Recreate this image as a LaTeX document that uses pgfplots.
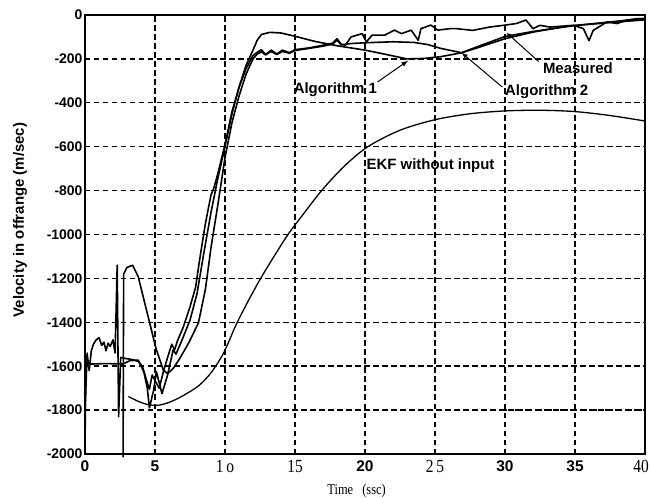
\documentclass[border=0pt]{standalone}
\usepackage{fontspec}
\setmainfont{Liberation Sans}
\newfontfamily\serifl{Liberation Serif}
\usepackage{pgfplots}
\pgfplotsset{compat=1.18}
\usetikzlibrary{arrows.meta,calc}
\newcommand{\stl}[1]{\scalebox{1}[1.2]{\serifl #1}}
\begin{document}
\begin{tikzpicture}
\begin{axis}[
  scale only axis, width=560bp, height=439bp,
  xmin=0, xmax=40, ymin=-2000, ymax=0,
  clip=false,
  xtick={0,5,...,40},
  ytick={-2000,-1800,...,0},
  xticklabels={{\bfseries 0},{\bfseries 5},{\stl{1\,o}},{\stl{15}},{\bfseries 20},{\stl{2\,5}},{\bfseries 30},{\bfseries 35},{\stl{40}\hspace*{8bp}}},
  yticklabels={{-2000},{-1800},{-1600},{-1400},{-1200},{-1000},{-800},{-600},{-400},{-200},{0}},
  major tick length=0pt,
  xticklabel style={font=\fontsize{15.5}{15.5}\selectfont, yshift=-3bp},
  yticklabel style={font=\fontsize{14}{14}\selectfont\bfseries, xshift=1bp},
  grid=major,
  major grid style={black, line width=1.4bp, dash pattern=on 5.5bp off 3.5bp},
  axis line style={black, line width=1.8bp},
  xlabel={\scalebox{1}[1.2]{\serifl Time\hspace{9bp}(ssc)}},
  xlabel style={font=\fontsize{12.5}{12.5}\selectfont, at={(rel axis cs:0.485,0)}, anchor=base, yshift=-40bp},
  ylabel={Velocity in offrange (m/sec)},
  ylabel style={font=\fontsize{15}{15}\selectfont\bfseries, at={(rel axis cs:0,0.533)}, anchor=center, yshift=65bp},
]
% Measured
\addplot[black, line width=1.6bp, line join=round] coordinates {
(0,-1820)(0.15,-1540)(0.3,-1620)(0.45,-1530)(0.6,-1500)(0.8,-1480)(1.0,-1470)(1.2,-1505)(1.35,-1490)(1.5,-1530)(1.65,-1495)(1.8,-1510)(2.0,-1480)(2.15,-1540)(2.3,-1140)(2.4,-1830)(2.55,-1560)(2.9,-1565)(3.4,-1570)(3.8,-1578)(4.1,-1600)(4.4,-1665)(4.6,-1705)(4.8,-1640)(5.0,-1665)(5.3,-1700)(5.6,-1625)(5.9,-1560)(6.2,-1500)(6.4,-1525)(6.6,-1485)(7.0,-1425)(7.5,-1330)(7.9,-1240)(8.2,-1110)(8.6,-950)(9.0,-820)(9.2,-790)(9.5,-720)(10.0,-590)(10.5,-440)(11.0,-330)(11.5,-245)(12.0,-185)(12.3,-170)(12.6,-158)(12.9,-180)(13.3,-160)(13.7,-178)(14.1,-160)(14.6,-172)(15.0,-158)(16.0,-150)(17.0,-138)(17.7,-128)(18.0,-108)(18.3,-133)(18.6,-138)(19.0,-100)(19.8,-85)(20.1,-123)(20.5,-92)(21.4,-92)(22.1,-69)(22.6,-85)(23.3,-69)(23.8,-115)(24.0,-62)(24.7,-46)(25.2,-69)(26.1,-62)(26.5,-62)(27.7,-70)(28.9,-55)(29.9,-47)(30.8,-39)(31.5,-23)(32.0,-62)(32.5,-47)(33.2,-55)(34.9,-47)(35.6,-62)(36.0,-117)(36.3,-70)(37.3,-31)(38.0,-39)(38.7,-23)(39.6,-16)(40.0,-22)
};
% Algorithm 1
\addplot[black, line width=1.6bp, line join=round] coordinates {
(0,-2000)(0.05,-1590)(0.5,-1590)(1.5,-1588)(2.7,-1590)(3.2,-1575)(3.8,-1572)(4.2,-1625)(4.45,-1700)(4.6,-1790)(4.9,-1710)(5.1,-1625)(5.5,-1725)(5.9,-1640)(6.3,-1525)(6.5,-1545)(7.0,-1470)(7.5,-1390)(8.0,-1270)(8.5,-1080)(9.0,-900)(9.5,-740)(10.0,-600)(10.5,-450)(11.0,-330)(11.5,-230)(12.0,-160)(12.3,-115)(12.6,-89)(13.2,-79)(14.0,-82)(15.0,-97)(16.4,-120)(18.0,-140)(20.0,-160)(21.3,-177)(23.0,-200)(24.2,-198)(25.4,-190)(26.9,-172)(28.0,-150)(30.0,-108)(32.0,-78)(34.3,-52)(37.0,-35)(40.0,-15)
};
% Algorithm 2
\addplot[black, line width=1.6bp, line join=round] coordinates {
(2.72,-2015)(2.76,-1180)(3.0,-1150)(3.4,-1140)(3.8,-1192)(4.5,-1372)(5.1,-1526)(5.6,-1618)(5.9,-1634)(6.3,-1610)(6.7,-1572)(7.4,-1495)(8.1,-1403)(8.6,-1250)(9.0,-1060)(9.5,-860)(10.0,-650)(10.5,-490)(11.0,-370)(11.5,-270)(12.0,-200)(12.3,-178)(12.6,-168)(12.9,-182)(13.3,-166)(13.7,-180)(14.1,-166)(14.6,-174)(15.0,-162)(16.0,-152)(17.0,-142)(17.7,-132)(18.0,-114)(18.3,-136)(19.0,-130)(20.2,-126)(22.0,-122)(23.5,-125)(24.5,-135)(25.4,-152)(26.9,-172)(28.0,-145)(30.0,-98)(32.0,-75)(35.0,-48)(38.0,-32)(40.0,-22)
};
% EKF without input
\addplot[black, line width=1.3bp, line join=round, smooth] coordinates {
(3.1,-1738)(3.8,-1760)(4.5,-1775)(5.2,-1778)(6.0,-1765)(6.9,-1738)(8.1,-1690)(9.0,-1630)(9.9,-1540)(10.8,-1410)(11.6,-1310)(12.5,-1205)(13.5,-1100)(14.5,-1000)(15.5,-915)(16.9,-800)(18.5,-690)(20.2,-600)(22.5,-525)(25.0,-477)(27.5,-450)(30.0,-437)(32.5,-434)(35.0,-440)(37.5,-458)(40.0,-483)
};
% grid artefact
\draw[black, line width=2.4bp, dash pattern=on 2.4bp off 2.6bp] (axis cs:30,-1800) -- (axis cs:40,-1800);
% annotations
\node[anchor=west, font=\fontsize{15}{15}\selectfont\bfseries, inner sep=0pt] at (axis cs:14.9,-342) {Algorithm 1};
\node[anchor=west, font=\fontsize{15}{15}\selectfont\bfseries, inner sep=0pt] at (axis cs:30.0,-351) {Algorithm 2};
\node[anchor=west, font=\fontsize{15}{15}\selectfont\bfseries, inner sep=0pt] at (axis cs:32.7,-241) {Measured};
\node[anchor=west, font=\fontsize{15}{15}\selectfont\bfseries, inner sep=0pt] at (axis cs:20.1,-685) {EKF without input};
\draw[black, line width=1bp, -{Latex[length=7bp,width=5bp]}] (axis cs:20.9,-305) -- (axis cs:23.1,-207);
\draw[black, line width=1bp, -{Latex[length=6bp,width=5bp]}] (axis cs:29.8,-328) -- (axis cs:26.9,-172);
\draw[black, line width=1bp, -{Latex[length=6bp,width=5bp]}] (axis cs:32.4,-212) -- (axis cs:30.1,-80);
\end{axis}
\pgfresetboundingbox
\path[use as bounding box] ($(current axis.south west)+(-85bp,-44bp)$) rectangle ($(current axis.north east)+(6bp,15bp)$);
\end{tikzpicture}
\end{document}
